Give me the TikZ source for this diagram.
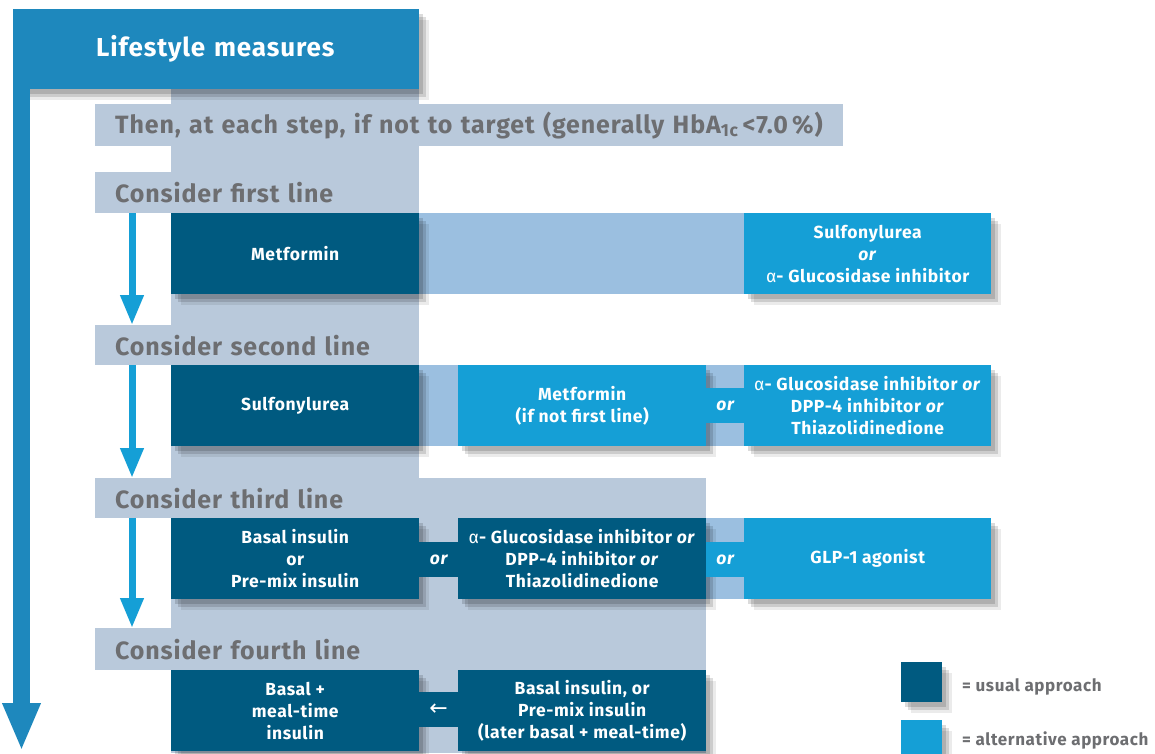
\documentclass[tikz,border=0pt]{standalone}
\usepackage{fontspec}
\setmainfont[LetterSpace=3.5]{Fira Sans}
\newfontfamily\grk{DejaVu Sans}
\usetikzlibrary{arrows.meta,shadows}
\definecolor{lifeblue}{RGB}{30,136,189}
\definecolor{darkb}{RGB}{0,90,128}
\definecolor{brightb}{RGB}{21,159,214}
\definecolor{lightb}{RGB}{155,191,224}
\definecolor{grayb}{RGB}{185,201,219}
\definecolor{txtgray}{RGB}{109,110,113}
\newcommand{\alp}{{\mdseries α}}
\tikzset{
  shad/.style={drop shadow={shadow xshift=4pt,shadow yshift=-5pt,opacity=.14,fill=black},
               drop shadow={shadow xshift=7pt,shadow yshift=-8pt,opacity=.13,fill=black},
               drop shadow={shadow xshift=10pt,shadow yshift=-11pt,opacity=.08,fill=black}},
  box/.style={rectangle, minimum width=248pt, minimum height=81pt, inner sep=0pt,
              align=center, text=white, font=\bfseries\fontsize{17.5}{22}\selectfont,
              anchor=north west, shad},
  usual/.style={box, fill=darkb},
  altern/.style={box, fill=brightb},
  hdr/.style={rectangle, fill=grayb, text=txtgray, inner sep=0pt, align=left,
              font=\bfseries\fontsize{25}{28}\selectfont, anchor=north west},
  orband/.style={rectangle, minimum width=38pt, minimum height=35pt, inner sep=0pt,
                 text=white, font=\bfseries\itshape\fontsize{17.5}{20}\selectfont, anchor=north west},
  smallarr/.style={draw=brightb, line width=7pt, -{Triangle[width=22pt,length=30pt]}},
  bigarr/.style={draw=lifeblue, line width=17pt, -{Triangle[width=35pt,length=48pt]}},
  legsq/.style={rectangle, minimum width=41pt, minimum height=40pt, inner sep=0pt, anchor=north west, shad},
  legtxt/.style={anchor=west, text=txtgray, font=\bfseries\fontsize{17}{20}\selectfont, inner sep=0pt}
}
\begin{document}
\begin{tikzpicture}[x=1pt,y=-1pt]
\useasboundingbox[fill=white] (0,0) rectangle (1155,753);
% background column
\fill[grayb] (171,89) rectangle (419,478);
\fill[grayb] (171,478) rectangle (706,753);
% headers
\node[hdr, minimum width=748pt, minimum height=42pt, text width=748pt] (hthen) at (95,104)
  {\hspace*{20pt}Then, at each step, if not to target (generally HbA\textsubscript{1c}\,<7.0\,\%)};
\node[hdr, minimum height=41pt, text width=324pt] (h1) at (95,172) {\hspace*{20pt}Consider first line};
\node[hdr, minimum height=40pt, text width=324pt] (h2) at (95,325) {\hspace*{20pt}Consider second line};
\node[hdr, minimum height=40pt, text width=611pt] (h3) at (95,478) {\hspace*{20pt}Consider third line};
\node[hdr, minimum height=42pt, text width=611pt] (h4) at (95,628) {\hspace*{20pt}Consider fourth line};
% light bands
\fill[lightb] (419,213) rectangle (744,294);
\fill[lightb] (419,365) rectangle (458,446);
\fill[lightb] (706,365) rectangle (744,446);
\fill[lightb] (706,518) rectangle (744,599);
% lifestyle
\node[rectangle, fill=lifeblue, minimum width=406pt, minimum height=80pt, inner sep=0pt,
      text width=406pt, align=left, anchor=north west, text=white,
      font=\bfseries\fontsize{26}{28}\selectfont, shad] (life) at (13,9) {\hspace*{83pt}\raisebox{-3pt}{Lifestyle measures}};
\coordinate (bigtop) at (21.5,9);
\coordinate (bigtip) at (21.5,751);
\draw[bigarr] (bigtop) -- (bigtip);
% row 1
\node[usual] (r1a) at (171,213) {Metformin};
\node[altern, minimum width=247pt] (r1c) at (744,213) {Sulfonylurea\\ \textit{or}\\ \alp- Glucosidase inhibitor};
% row 2
\node[usual] (r2a) at (171,365) {Sulfonylurea};
\node[altern] (r2b) at (458,365) {Metformin\\ (if not first line)};
\node[altern, minimum width=247pt] (r2c) at (744,365) {\alp- Glucosidase inhibitor \textit{or}\\ DPP-4 inhibitor \textit{or}\\ Thiazolidinedione};
\node[orband, fill=brightb] (o2) at (706,388) {or};
% row 3
\node[usual] (r3a) at (171,518) {Basal insulin\\ or\\ Pre-mix insulin};
\node[usual] (r3b) at (458,518) {\alp- Glucosidase inhibitor \textit{or}\\ DPP-4 inhibitor \textit{or}\\ Thiazolidinedione};
\node[altern, minimum width=247pt] (r3c) at (744,518) {GLP-1 agonist};
\node[orband, fill=darkb, minimum width=39pt] (o3a) at (419,542) {or};
\node[orband, fill=brightb] (o3b) at (706,542) {or};
% row 4
\node[usual] (r4a) at (171,670) {Basal +\\ meal-time\\ insulin};
\node[usual] (r4b) at (458,670) {Basal insulin, or\\ Pre-mix insulin\\ (later basal + meal-time)};
\node[orband, fill=darkb, minimum width=39pt, font=\grk\fontsize{22}{24}\selectfont] (o4) at (419,692) {←};
% small arrows
\draw[smallarr] ([xshift=37pt]h1.south west) -- ([xshift=37pt]h2.north west);
\draw[smallarr] ([xshift=37pt]h2.south west) -- ([xshift=37pt]h3.north west);
\draw[smallarr] ([xshift=37pt]h3.south west) -- ([xshift=37pt]h4.north west);
% legend
\node[legsq, fill=darkb] (lu) at (901,662) {};
\node[legsq, fill=brightb] (la) at (901,720) {};
\node[legtxt] (lut) at (962,687) {= usual approach};
\node[legtxt] (lat) at (962,740) {= alternative approach};
\end{tikzpicture}
\end{document}
